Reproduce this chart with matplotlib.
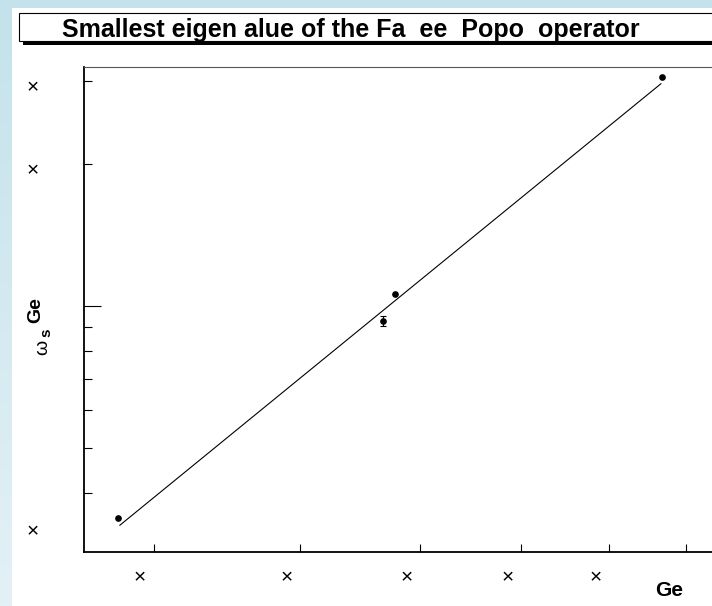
import numpy as np
import matplotlib.pyplot as plt
from matplotlib.patches import Rectangle
from matplotlib.transforms import ScaledTranslation

plt.rcParams['font.family'] = ['Liberation Sans', 'DejaVu Sans']

# values (log-log axes)
scale_x = [0.379, 0.867]
omega_s = [0.354, 3.06]
mid_x = [0.578]
mid_y = [1.059]
err_x = [0.567]
err_y = [0.928]
err_dy = [0.024]
fit_x = [0.380, 0.866]
fit_y = [0.342, 2.96]

x_ticks = [0.4, 0.5, 0.6, 0.7, 0.8, 0.9]
x_tick_text = ['×', '×', '×', '×', '×', '']
y_major = [1.0]
y_minor = [0.4, 0.5, 0.6, 0.7, 0.8, 0.9, 2.0, 3.0]
y_text_pos = [2.9, 1.93, 0.332]
y_text = ['×', '×', '×']

title = 'Smallest eigen alue of the Fa  ee  Popo  operator'

W, H = 712, 606
fig = plt.figure(figsize=(W / 100, H / 100), dpi=100)


def fx(px):
    return px / W


def fy(py):
    return 1 - py / H


# pale blue canvas frame with a vertical gradient
bg = fig.add_axes([0, 0, 1, 1], zorder=-10)
top_c = np.array([196, 226, 235]) / 255
bot_c = np.array([227, 241, 246]) / 255
grad = np.linspace(0, 1, 256)[:, None, None] * (bot_c - top_c) + top_c
bg.imshow(grad, aspect='auto', extent=[0, 1, 0, 1])
bg.add_patch(Rectangle((fx(12), 0), 1, fy(8), facecolor='white', edgecolor='none'))
bg.set_xlim(0, 1)
bg.set_ylim(0, 1)
bg.axis('off')

# title box with shadow
fig.patches.append(Rectangle((fx(23), fy(45)), 1, (45 - 17) / H,
                             transform=fig.transFigure, facecolor='black',
                             edgecolor='none', zorder=1))
fig.patches.append(Rectangle((fx(19), fy(41)), 1, (41 - 13) / H,
                             transform=fig.transFigure, facecolor='white',
                             edgecolor='black', linewidth=0.8, zorder=2))
fig.text(fx(62), fy(36.5), title, fontsize=18, fontweight='bold',
         va='baseline', ha='left', zorder=3)

# main axes, right edge runs off the canvas
left, right, top, bottom = 84, 755.4, 67.3, 552.3
ax = fig.add_axes([fx(left), fy(bottom), (right - left) / W, (bottom - top) / H])
ax.set_xscale('log')
ax.set_yscale('log')
ax.set_xlim(0.3598, 1.0)
ax.set_ylim(0.2996, 3.208)

ax.plot(fit_x, fit_y, color='black', linewidth=0.8)
ax.plot(scale_x + mid_x, omega_s + mid_y, 'o', color='black', markersize=3.8)
ax.errorbar(err_x, err_y, yerr=err_dy, fmt='o', color='black', markersize=3.8,
            capsize=2.2, elinewidth=0.8, capthick=0.8)

ax.set_xticks(x_ticks)
ax.set_xticks([], minor=True)
ax.xaxis.set_ticklabels([])
ax.set_yticks(y_major)
ax.set_yticks(y_minor, minor=True)
ax.yaxis.set_ticklabels([])
ax.yaxis.set_ticklabels([], minor=True)
ax.tick_params(axis='x', which='both', direction='in', length=6, width=0.8)
ax.tick_params(axis='y', which='major', direction='in', length=12.5, width=0.8)
ax.tick_params(axis='y', which='minor', direction='in', length=6, width=0.8)

ax.spines['left'].set_linewidth(1.3)
ax.spines['bottom'].set_linewidth(1.3)
ax.spines['top'].set_linewidth(0.8)
ax.spines['top'].set_color('#555555')
ax.spines['right'].set_visible(False)

# broken tick labels as they appear in the reference
shift = ScaledTranslation(-13.5 / 100, -25 / 100, fig.dpi_scale_trans)
for xv, lab in zip(x_ticks, x_tick_text):
    ax.text(xv, 0, lab, transform=ax.get_xaxis_transform() + shift,
            ha='center', va='center', fontsize=15)
for yv, lab in zip(y_text_pos, y_text):
    yfrac = ax.transAxes.inverted().transform(ax.transData.transform((1, yv)))[1]
    fig.text(fx(33), fy(bottom) + yfrac * (bottom - top) / H, lab,
             ha='center', va='center', fontsize=15)

# axis titles
fig.text(fx(669), fy(590), 'Ge', fontsize=15, fontweight='bold',
         ha='center', va='center')
fig.text(fx(35.5), fy(310), 'Ge', fontsize=14, fontweight='bold',
         rotation=90, ha='center', va='center')
fig.text(fx(43), fy(347), 'ω', fontsize=14,
         rotation=90, ha='center', va='center')
fig.text(fx(46), fy(333), 's', fontsize=11, fontweight='bold',
         rotation=90, ha='center', va='center')

fig.savefig('out.png', dpi=100)
